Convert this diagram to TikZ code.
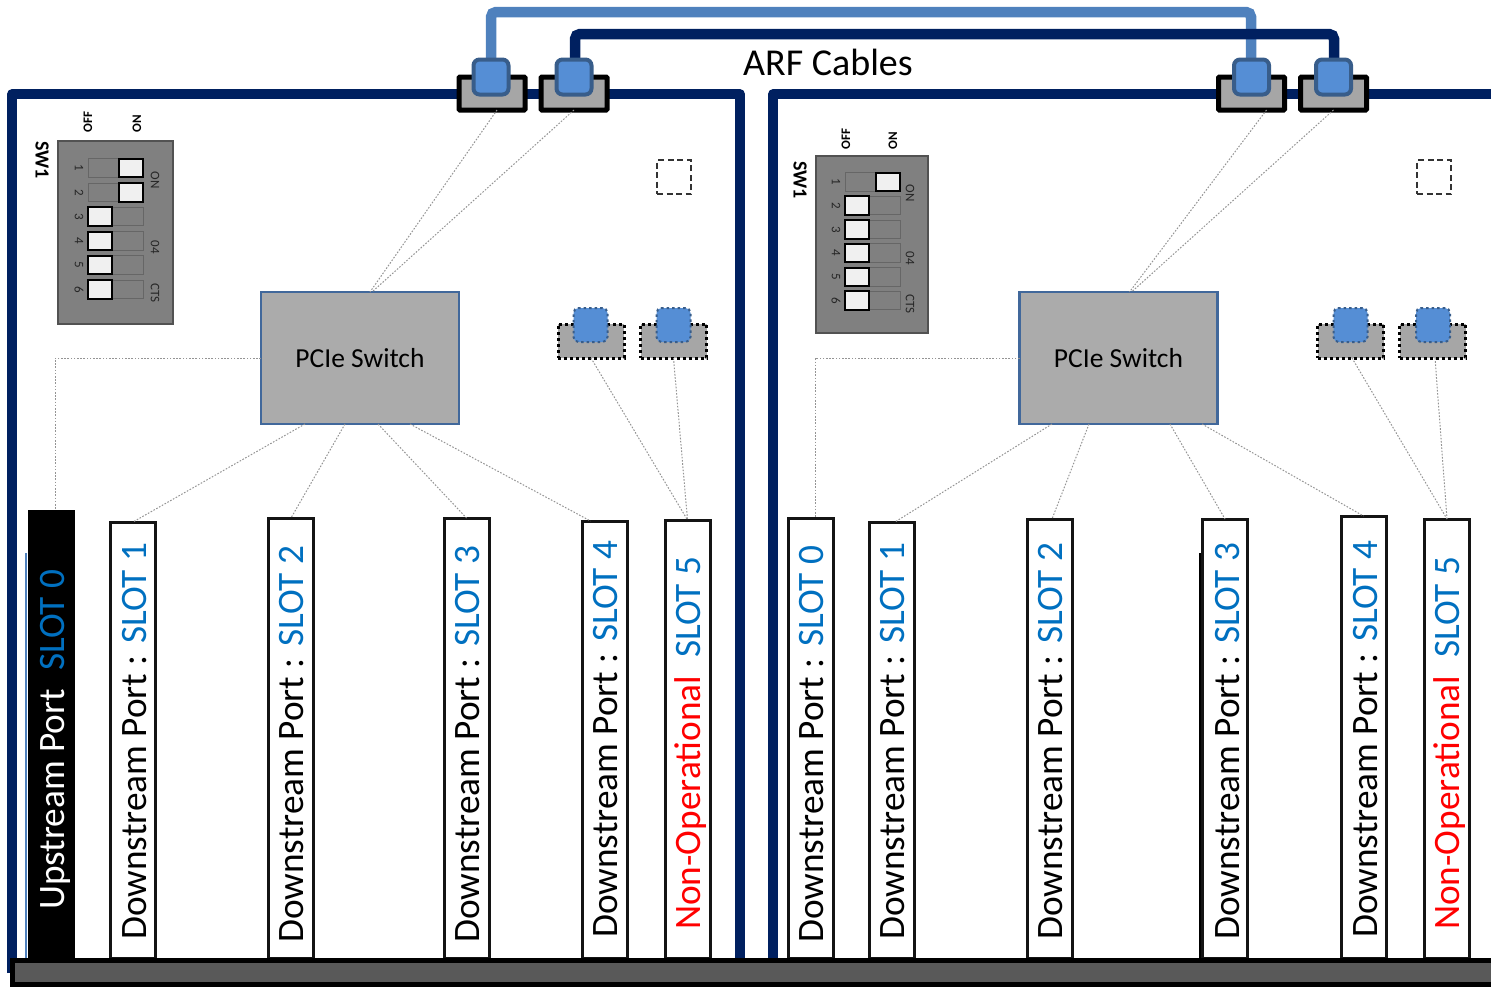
\documentclass[tikz,border=0pt]{standalone}
\usepackage{fontspec}
\setmainfont{Carlito}
\definecolor{boardnavy}{HTML}{002060}
\definecolor{cablelight}{HTML}{4F81BD}
\definecolor{portblue}{HTML}{558ED5}
\definecolor{portedge}{HTML}{385D8A}
\definecolor{slotblue}{HTML}{0070C0}
\definecolor{switchedge}{HTML}{41689B}
\tikzset{
  box/.style={rectangle,outer sep=0pt,inner sep=0pt},
  board/.style={draw=boardnavy,line width=9.5pt,line join=round},
  cable/.style={line width=10.5pt,rounded corners=5pt},
  connbody/.style={box,draw=black,line width=5pt,fill=black!35,minimum width=66pt,minimum height=33pt,rounded corners=1pt},
  connport/.style={box,draw=portedge,line width=4pt,fill=portblue,minimum width=35pt,minimum height=35pt,rounded corners=6pt},
  nobody/.style={box,draw=black,line width=3pt,dash pattern=on 3pt off 3pt,fill=black!35,minimum width=66pt,minimum height=34pt},
  noport/.style={box,draw=portedge,line width=2pt,dash pattern=on 2.5pt off 3pt,fill=portblue,minimum width=34pt,minimum height=34pt,rounded corners=5pt},
  pcie/.style={box,draw=switchedge,line width=2.2pt,fill=black!33,minimum width=198pt,minimum height=132pt,font=\fontsize{27.5}{27.5}\selectfont},
  slotbox/.style={box,draw=black!92,line width=3pt,fill=white,minimum width=45pt,anchor=north},
  slottext/.style={rotate=90,anchor=base west,inner sep=0pt,font=\fontsize{37.3}{37.3}\selectfont},
  link/.style={draw=black!42,line width=1pt,dash pattern=on 1.6pt off 1.6pt},
  dipbody/.style={box,draw=black!68,line width=1.5pt,fill=black!50,anchor=north west},
  diptrack/.style={box,draw=black!60,line width=1pt,minimum width=55pt,minimum height=18.5pt},
  dipknob/.style={box,draw=black,line width=2pt,fill=black!6,minimum width=24pt,minimum height=18.5pt},
  diplabel/.style={rotate=-90,inner sep=0pt,text=black!85,font=\fontsize{13}{13}\selectfont},
  toplabel/.style={rotate=90,inner sep=0pt,text=black,font=\fontsize{13}{13}\selectfont\bfseries},
  namelabel/.style={rotate=-90,inner sep=0pt,text=black,font=\fontsize{20}{20}\selectfont\bfseries},
  markbox/.style={box,draw=black!80,line width=1.2pt,dash pattern=on 6pt off 3.5pt,minimum width=34pt,minimum height=34pt},
}
% dip switch: name, left of track, top of first track, pitch, rows that are on
\newcommand{\dipswitch}[5]{
  \foreach \r in {1,...,6}{
    \node[diptrack] (#1t\r) at ({#2+27.5},{#3+9+(\r-1)*#4}) {};
    \ifnum\r>#5
      \node[dipknob] (#1k\r) at ({#2+12},{#3+9+(\r-1)*#4}) {};
    \else
      \node[dipknob] (#1k\r) at ({#2+43},{#3+9+(\r-1)*#4}) {};
    \fi
    \node[diplabel] (#1n\r) at ({#2-9},{#3+9+(\r-1)*#4}) {\r};
  }
}
\begin{document}
\begin{tikzpicture}[x=1pt,y=-1pt]
\useasboundingbox (0,0) rectangle (1491,986);
% boards
\draw[board] (12,973) -- (12,94) -- (740,94) -- (740,970);
\draw[board] (773,970) -- (773,94) -- (1495,94);
% cables
\coordinate (cableA) at (491,70);
\coordinate (cableB) at (575,70);
\coordinate (cableC) at (1251,70);
\coordinate (cableD) at (1334,70);
\draw[cable,draw=cablelight] (cableA) -- (491,12) -- (1251,12) -- (cableC);
\draw[cable,draw=boardnavy] (cableB) -- (575,34) -- (1334,34) -- (cableD);
\node[inner sep=0pt,font=\fontsize{38}{38}\selectfont] (arf) at (828,62) {ARF Cables};
% connectors on top
\node[connbody] (connA) at (492,93.5) {};
\node[connbody] (connB) at (574,93.5) {};
\node[connbody] (connC) at (1251.5,93.5) {};
\node[connbody] (connD) at (1333.5,93.5) {};
\node[connport] (portA) at (491,77) {};
\node[connport] (portB) at (574,77) {};
\node[connport] (portC) at (1251.5,77) {};
\node[connport] (portD) at (1333.5,77) {};
% unused connectors
\node[nobody] (nobodyA) at (591,341) {};
\node[nobody] (nobodyB) at (673.5,341) {};
\node[nobody] (nobodyC) at (1350.5,341) {};
\node[nobody] (nobodyD) at (1432.5,341) {};
\node[noport] (noportA) at (590.5,325) {};
\node[noport] (noportB) at (673.5,325) {};
\node[noport] (noportC) at (1350.5,325) {};
\node[noport] (noportD) at (1433,325) {};
% empty marks
\node[markbox] (markL) at (674,177) {};
\node[markbox] (markR) at (1434,177) {};
% pcie switches
\node[pcie] (pcieL) at (360,358) {PCIe Switch};
\node[pcie] (pcieR) at (1118.5,358) {PCIe Switch};
% slots
\draw[cablelight,line width=1.5pt] (26,553) -- (26,958);
\node[box,fill=black,minimum width=47pt,minimum height=448pt,anchor=north] (slotL0) at (51.5,510) {};
\node[slotbox,minimum height=436pt] (slotL1) at (133,522) {};
\node[slotbox,minimum height=440pt] (slotL2) at (291,518) {};
\node[slotbox,minimum height=440pt] (slotL3) at (466.5,518) {};
\node[slotbox,minimum height=437pt] (slotL4) at (604.5,521) {};
\node[slotbox,minimum height=438pt] (slotL5) at (687.5,520) {};
\node[slotbox,minimum height=440pt] (slotR0) at (810.5,518) {};
\node[slotbox,minimum height=436pt] (slotR1) at (891.5,522) {};
\node[slotbox,minimum height=439pt] (slotR2) at (1049.5,519) {};
\draw[black,line width=3pt] (1200.5,553) -- (1200.5,958);
\node[slotbox,minimum height=439pt] (slotR3) at (1225,519) {};
\node[slotbox,minimum height=442pt] (slotR4) at (1363.5,516) {};
\node[slotbox,minimum height=439pt] (slotR5) at (1447,519) {};
\node[slottext,text=white] (textL0) at (64,910) {Upstream Port\hspace{18pt}\textcolor{slotblue}{SLOT 0}};
\node[slottext] (textL1) at (146,940) {Downstream Port : \textcolor{slotblue}{SLOT 1}};
\node[slottext] (textL2) at (303,943) {Downstream Port : \textcolor{slotblue}{SLOT 2}};
\node[slottext] (textL3) at (479,943) {Downstream Port : \textcolor{slotblue}{SLOT 3}};
\node[slottext] (textL4) at (617,938) {Downstream Port : \textcolor{slotblue}{SLOT 4}};
\node[slottext,text=red] (textL5) at (700,930) {Non-Operational\hspace{18pt}\textcolor{slotblue}{SLOT 5}};
\node[slottext] (textR0) at (823,943) {Downstream Port : \textcolor{slotblue}{SLOT 0}};
\node[slottext] (textR1) at (904,940) {Downstream Port : \textcolor{slotblue}{SLOT 1}};
\node[slottext] (textR2) at (1062,940) {Downstream Port : \textcolor{slotblue}{SLOT 2}};
\node[slottext] (textR3) at (1239,940) {Downstream Port : \textcolor{slotblue}{SLOT 3}};
\node[slottext] (textR4) at (1377,938) {Downstream Port : \textcolor{slotblue}{SLOT 4}};
\node[slottext,text=red] (textR5) at (1459,930) {Non-Operational\hspace{18pt}\textcolor{slotblue}{SLOT 5}};
% links
\draw[link] ([xshift=5pt]connA.south) -- ([xshift=10pt]pcieL.north);
\draw[link] (connB.south) -- ([xshift=12pt]pcieL.north);
\draw[link] ([xshift=15pt]connC.south) -- ([xshift=11pt]pcieR.north);
\draw[link] (connD.south) -- ([xshift=13pt]pcieR.north);
\draw[link] (pcieL.west) -- (55,358) -- (slotL0.north -| 55,0);
\draw[link] (pcieR.west) -- (815,358) -- ([xshift=4.5pt]slotR0.north);
\draw[link] ([xshift=-55pt]pcieL.south) -- (slotL1.north);
\draw[link] ([xshift=-15pt]pcieL.south) -- (slotL2.north);
\draw[link] ([xshift=18pt]pcieL.south) -- (slotL3.north);
\draw[link] ([xshift=50pt]pcieL.south) -- ([xshift=-14pt]slotL4.north);
\draw[link] ([xshift=-66.5pt]pcieR.south) -- ([xshift=3.5pt]slotR1.north);
\draw[link] ([xshift=-29.5pt]pcieR.south) -- ([xshift=2.5pt]slotR2.north);
\draw[link] ([xshift=51.5pt]pcieR.south) -- (slotR3.north);
\draw[link] ([xshift=83.5pt]pcieR.south) -- (slotR4.north);
\draw[link] (nobodyA.south) -- (slotL5.north);
\draw[link] (nobodyB.south) -- (slotL5.north);
\draw[link] ([xshift=1.5pt]nobodyC.south) -- (slotR5.north);
\draw[link] ([xshift=2.5pt]nobodyD.south) -- (slotR5.north);
% dip switches
\node[dipbody,minimum width=115pt,minimum height=183pt] (dipL) at (58,141) {};
\dipswitch{dipL}{88}{159}{24.3}{2}
\node[diplabel] (dipLon) at (155,180) {ON};
\node[diplabel] (dipLfour) at (155,247) {04};
\node[diplabel] (dipLcts) at (155,293) {CTS};
\node[namelabel] (dipLname) at (42,160) {SW1};
\node[toplabel] (dipLoff) at (88,122) {OFF};
\node[toplabel] (dipLtop) at (137,124) {ON};
\node[dipbody,minimum width=112pt,minimum height=177pt] (dipR) at (816,156) {};
\dipswitch{dipR}{845}{173}{23.7}{1}
\node[diplabel] (dipRon) at (910,193) {ON};
\node[diplabel] (dipRfour) at (910,258) {04};
\node[diplabel] (dipRcts) at (910,304) {CTS};
\node[namelabel] (dipRname) at (800,180) {SW1};
\node[toplabel] (dipRoff) at (846,139) {OFF};
\node[toplabel] (dipRtop) at (893,141) {ON};
% base
\node[box,draw=black,line width=5pt,fill=black!65,minimum width=1500pt,minimum height=24pt,anchor=north west] (base) at (12.5,960) {};
\end{tikzpicture}
\end{document}
